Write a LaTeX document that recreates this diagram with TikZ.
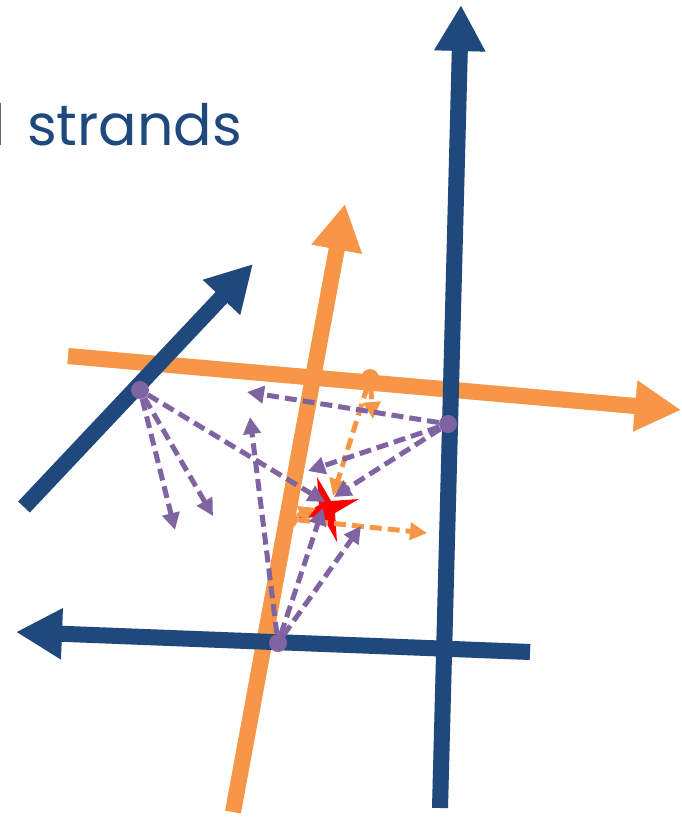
\documentclass[tikz,border=0pt]{standalone}
\usepackage{fontspec}
\setmainfont{Poppins}
\usetikzlibrary{arrows.meta,calc}
\definecolor{dblue}{HTML}{1F497D}
\definecolor{orng}{HTML}{F79646}
\definecolor{purp}{HTML}{8064A2}
\begin{document}
\begin{tikzpicture}[x=1pt,y=-1pt,
  bigarrow/.style={line width=16pt, -{Triangle[length=46pt,width=48pt]}},
  shadowarrow/.style={bigarrow, black, opacity=0.12, shift={(2,4)}},
  pdash/.style={purp, line width=5pt, dash pattern=on 12pt off 6pt, -{Triangle[length=17pt,width=17pt]}},
  odash/.style={orng, line width=5pt, dash pattern=on 12pt off 6pt, -{Triangle[length=17pt,width=17pt]}},
  pdot/.style={circle, fill=purp, inner sep=0pt, minimum size=18pt},
  odot/.style={circle, fill=orng, inner sep=0pt, minimum size=18pt}]
\useasboundingbox (0,0) rectangle (681,819);
% title text
\node[anchor=base west, inner sep=0pt, text=dblue, font=\fontsize{57}{62}\selectfont] (title) at (27,145) {strands};
\node[anchor=base east, inner sep=0pt, text=black, font=\fontsize{57}{62}\selectfont] (titlel) at (6,145) {l};
% strand end points
\coordinate (ohS) at (68,356);  \coordinate (ohE) at (681,410);
\coordinate (ovS) at (233,812); \coordinate (ovE) at (345,204);
\coordinate (bdS) at (24,507);  \coordinate (bdE) at (253,264);
\coordinate (bvS) at (440,808); \coordinate (bvE) at (461,5);
\coordinate (bhS) at (530,652); \coordinate (bhE) at (16,632);
% shadows
\draw[shadowarrow] (ohS) -- (ohE);
\draw[shadowarrow] (ovS) -- (ovE);
\draw[shadowarrow] (bdS) -- (bdE);
\draw[shadowarrow] (bvS) -- (bvE);
\draw[shadowarrow] (bhS) -- (bhE);
% thick strands
\draw[bigarrow, orng] (ohS) -- (ohE);
\draw[bigarrow, orng] (ovS) -- (ovE);
\draw[bigarrow, dblue] (bdS) -- (bdE);
\draw[bigarrow, dblue] (bvS) -- (bvE);
\draw[bigarrow, dblue] (bhS) -- (bhE);
% star
\coordinate (S) at (327,509);
\fill[red] ($(S)+(-10,-32)$) -- ($(S)+(4,-8)$) -- ($(S)+(32,-10)$) -- ($(S)+(8,4)$)
  -- ($(S)+(10,33)$) -- ($(S)+(-4,8)$) -- ($(S)+(-30,9)$) -- ($(S)+(-8,-4)$) -- cycle;
% points
\node[pdot] (A) at (140,390) {};
\node[pdot] (B) at (448,424) {};
\node[pdot] (C) at (278,643) {};
\node[odot] (O1) at (370,378) {};
\node[odot] (O2) at (289,519) {};
% targets
\coordinate (a1) at (175,530); \coordinate (a2) at (213,516); \coordinate (a3) at (325,502);
\coordinate (b1) at (247,392); \coordinate (b2) at (308,471); \coordinate (b3) at (334,497);
\coordinate (c1) at (250,417); \coordinate (c2) at (323,508); \coordinate (c3) at (361,526);
\coordinate (o1a) at (373,419); \coordinate (o1b) at (333,496);
\coordinate (o2a) at (427,533); \coordinate (o2b) at (316,508);
% orange dashed
\draw[odash] (O1) -- (o1a);
\draw[odash] (O1) -- (o1b);
\draw[odash] (O2) -- (o2a);
\draw[odash] (O2) -- (o2b);
% purple dashed
\draw[pdash] (A) -- (a1);
\draw[pdash] (A) -- (a2);
\draw[pdash] (A) -- (a3);
\draw[pdash] (B) -- (b1);
\draw[pdash] (B) -- (b2);
\draw[pdash] (B) -- (b3);
\draw[pdash] (C) -- (c1);
\draw[pdash] (C) -- (c2);
\draw[pdash] (C) -- (c3);
\end{tikzpicture}
\end{document}
